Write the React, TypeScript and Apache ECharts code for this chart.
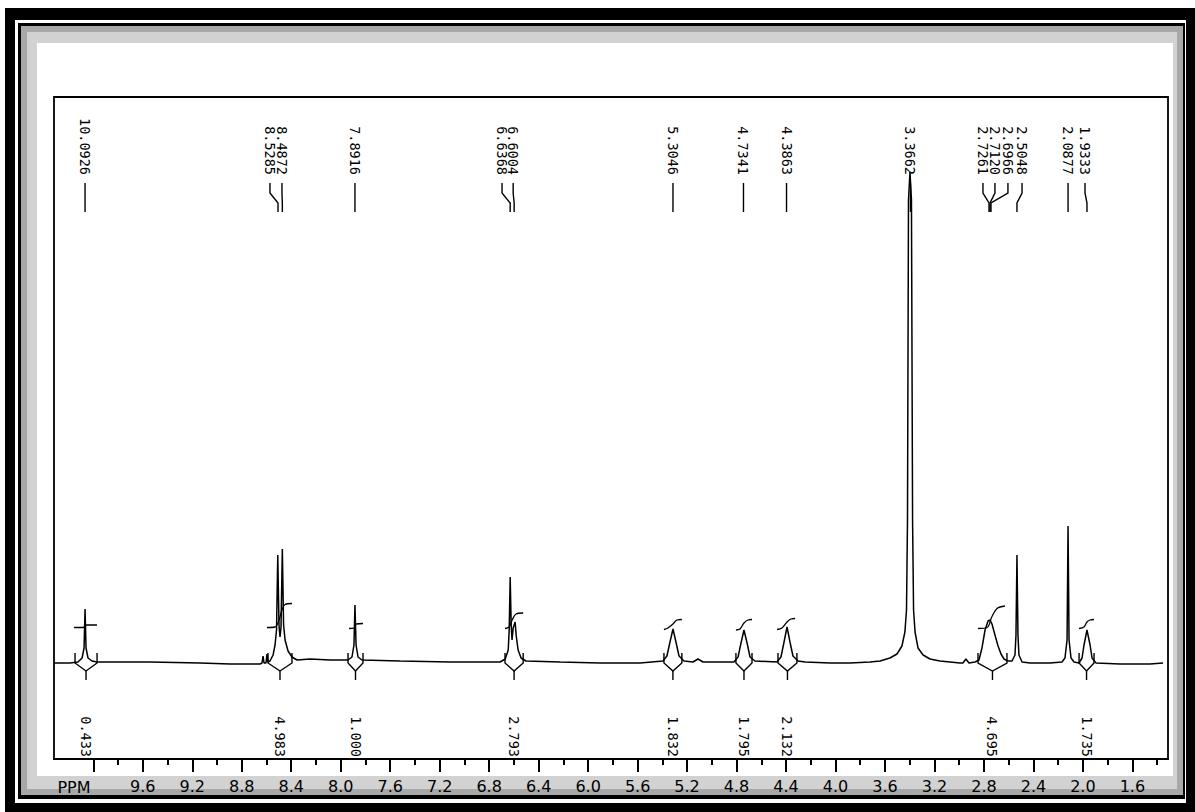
import React, { useEffect, useRef } from "react";
import * as echarts from "echarts";

// ---- axis range (ppm) ----
const ppmLeft = 10.318;
const ppmRight = 1.312;
const majorTicks = [10.0, 9.6, 9.2, 8.8, 8.4, 8.0, 7.6, 7.2, 6.8, 6.4, 6.0, 5.6, 5.2, 4.8, 4.4, 4.0, 3.6, 3.2, 2.8, 2.4, 2.0, 1.6];
const majorLabels = [9.6, 9.2, 8.8, 8.4, 8.0, 7.6, 7.2, 6.8, 6.4, 6.0, 5.6, 5.2, 4.8, 4.4, 4.0, 3.6, 3.2, 2.8, 2.4, 2.0, 1.6];
const minorTicks = [9.8, 9.4, 9.0, 8.6, 8.2, 7.8, 7.4, 7.0, 6.6, 6.2, 5.8, 5.4, 5.0, 4.6, 4.2, 3.8, 3.4, 3.0, 2.6, 2.2, 1.8, 1.4];

// ---- spectrum trace [ppm, intensity] ----
const spectrum: [number, number][] = [
  [10.318, 0], [10.188, 0], [10.124, 0.2], [10.091, 1.0], [10.075, 3.0], [10.067, 10.8], [10.059, 3.0], [10.043, 1.0], [10.011, 0.4], [9.970, 0.2],
  [9.542, 0.2], [9.137, 0], [8.895, -0.2], [8.652, -0.2], [8.636, 0], [8.628, 1.4], [8.620, 0], [8.604, 0], [8.596, 1.8], [8.588, 0.2],
  [8.572, 0.4], [8.547, 1.6], [8.531, 3.6], [8.519, 6.6], [8.509, 21.6], [8.499, 7.6], [8.491, 5.2], [8.483, 7.0], [8.472, 22.8], [8.462, 7.6],
  [8.450, 4.6], [8.426, 2.4], [8.394, 1.2], [8.353, 0.6], [8.248, 0.8], [8.086, 0.6], [7.965, 0.6], [7.941, 0.6], [7.909, 1.2], [7.893, 3.6],
  [7.885, 11.6], [7.876, 3.6], [7.860, 1.2], [7.828, 0.6], [7.521, 0.4], [7.116, 0.2], [6.712, 0.2], [6.670, 0.8], [6.646, 2.6], [6.638, 6.6],
  [6.630, 17.2], [6.622, 7.6], [6.615, 4.6], [6.606, 7.0], [6.590, 8.2], [6.582, 5.6], [6.566, 2.6], [6.542, 1.0], [6.502, 0.4], [6.227, 0.2],
  [5.904, 0], [5.580, 0], [5.395, 0.4], [5.363, 1.4], [5.338, 4.2], [5.314, 6.8], [5.290, 4.2], [5.265, 1.4], [5.225, 0.4], [5.152, 0.2],
  [5.112, 0.8], [5.071, 0.2], [4.821, 0.2], [4.788, 1.2], [4.764, 4.0], [4.740, 6.6], [4.715, 4.0], [4.691, 1.2], [4.651, 0.4], [4.473, 0.2],
  [4.441, 1.2], [4.416, 4.2], [4.392, 7.2], [4.368, 4.2], [4.344, 1.4], [4.303, 0.4], [4.246, 0.2], [4.044, 0], [3.883, 0], [3.721, 0.2],
  [3.640, 0.4], [3.560, 1.0], [3.503, 1.8], [3.463, 3.4], [3.439, 6.2], [3.426, 10.6], [3.418, 28.6], [3.410, 92.6], [3.398, 98.2], [3.386, 92.6],
  [3.377, 28.6], [3.369, 10.6], [3.357, 6.2], [3.333, 3.0], [3.292, 1.6], [3.236, 0.8], [3.156, 0.4], [3.075, 0.2], [2.994, 0], [2.970, 0],
  [2.946, 0.8], [2.921, 0],
  [2.872, 0.2], [2.840, 0.6], [2.816, 3.0], [2.791, 6.6], [2.767, 8.4], [2.751, 8.6], [2.735, 7.8], [2.711, 5.6], [2.686, 3.4], [2.662, 1.8],
  [2.638, 0.8], [2.606, 0.4], [2.573, 0.4], [2.549, 1.6], [2.541, 5.6], [2.533, 21.6], [2.525, 5.6], [2.517, 1.6], [2.492, 0.2], [2.427, 0],
  [2.266, 0], [2.169, 0.2], [2.145, 1.0], [2.128, 4.6], [2.120, 27.4], [2.112, 4.6], [2.096, 1.0], [2.072, 0.2], [2.031, 0], [2.007, 1.0],
  [1.991, 3.6], [1.967, 6.6], [1.942, 3.6], [1.926, 1.0], [1.894, 0], [1.700, -0.2], [1.457, -0.2], [1.352, 0],
];

// ---- integral curves [ppm, level] ----
const integral1: [number, number][] = [[10.156, 7.1], [10.083, 7.1], [10.059, 7.6], [9.970, 7.6]];
const integral2: [number, number][] = [[8.596, 7.1], [8.531, 7.2], [8.499, 8.6], [8.475, 10.6], [8.450, 11.7], [8.394, 11.9]];
const integral3: [number, number][] = [[7.933, 6.9], [7.893, 7.0], [7.876, 7.8], [7.820, 7.9]];
const integral4: [number, number][] = [[6.672, 6.9], [6.638, 7.2], [6.614, 8.6], [6.582, 9.8], [6.525, 10.0]];
const integral5: [number, number][] = [[5.387, 6.7], [5.355, 7.0], [5.314, 7.8], [5.282, 8.6], [5.242, 8.7]];
const integral6: [number, number][] = [[4.805, 6.6], [4.772, 6.8], [4.740, 8.0], [4.708, 8.6], [4.675, 8.7]];
const integral7: [number, number][] = [[4.473, 6.7], [4.433, 7.0], [4.392, 8.2], [4.360, 8.8], [4.327, 8.9]];
const integral8: [number, number][] = [[2.848, 6.9], [2.775, 7.1], [2.735, 9.3], [2.694, 10.9], [2.630, 11.4]];
const integral9: [number, number][] = [[2.031, 6.9], [1.991, 7.2], [1.967, 8.2], [1.942, 8.6], [1.910, 8.7]];
const integralCurves = [integral1, integral2, integral3, integral4, integral5, integral6, integral7, integral8, integral9];

// ---- integration regions [start ppm, end ppm] and values ----
const integralRanges: [number, number][] = [
  [10.148, 9.970], [8.588, 8.394], [7.941, 7.820], [6.672, 6.525], [5.387, 5.242],
  [4.805, 4.675], [4.465, 4.312], [2.848, 2.614], [2.031, 1.910],
];
const integralValues = ["0.433", "4.983", "1.000", "2.793", "1.832", "1.795", "2.132", "4.695", "1.735"];

// ---- peak labels: text, ppm where leader meets the peak, ppm of the label column ----
const peakLabels = ["10.0926", "8.5285", "8.4872", "7.8916", "6.6368", "6.6004", "5.3046", "4.7341", "4.3863", "3.3662", "2.7261", "2.7120", "2.6966", "2.5048", "2.0877", "1.9333"];
const peakPos = [10.067, 8.507, 8.472, 7.885, 6.630, 6.598, 5.314, 4.744, 4.396, 3.394, 2.759, 2.751, 2.743, 2.533, 2.120, 1.967];
const labelPos = [10.067, 8.572, 8.475, 7.885, 6.696, 6.606, 5.314, 4.744, 4.396, 3.394, 2.808, 2.711, 2.606, 2.492, 2.120, 1.983];

const MONO = "13.5px 'DejaVu Sans Mono', monospace";

export default function App() {
  const ref = useRef<HTMLDivElement>(null);
  useEffect(() => {
    document.body.style.margin = "0";
    const chart = echarts.init(ref.current!, null, { renderer: "svg" });
    const blk = { stroke: "#000", lineWidth: 1.4, fill: "none" };

    const option: any = {
      animation: false,
      backgroundColor: "#fff",
      grid: { left: 54, top: 97, width: 1114, height: 662, show: true, borderColor: "#000", borderWidth: 1.8 },
      xAxis: [
        {
          type: "value", inverse: true, min: ppmRight, max: ppmLeft, position: "bottom",
          axisLine: { show: true, onZero: false, lineStyle: { color: "#000", width: 1.8 } },
          axisTick: { show: true, customValues: majorTicks, length: 13, lineStyle: { color: "#000", width: 2 } },
          axisLabel: { show: true, customValues: majorLabels, margin: 19, color: "#000", fontFamily: "DejaVu Sans", fontSize: 16, formatter: (v: number) => v.toFixed(1) },
          splitLine: { show: false },
        },
        {
          type: "value", inverse: true, min: ppmRight, max: ppmLeft, position: "bottom",
          axisLine: { show: false, onZero: false },
          axisTick: { show: true, customValues: minorTicks, length: 6, lineStyle: { color: "#000", width: 2 } },
          axisLabel: { show: false },
          splitLine: { show: false },
        },
      ],
      yAxis: { type: "value", min: -19.2, max: 113.2, show: false, splitLine: { show: false } },
      graphic: [
        { type: "rect", z: -10, shape: { x: 5, y: 8, width: 1190, height: 804 }, style: { fill: "#000" } },
        { type: "rect", z: -10, shape: { x: 15, y: 20, width: 1171, height: 783 }, style: { fill: "#fff" } },
        { type: "rect", z: -10, shape: { x: 18, y: 23, width: 1167, height: 776 }, style: { fill: "#000" } },
        { type: "rect", z: -10, shape: { x: 21, y: 26, width: 1162, height: 769 }, style: { fill: "#a8a8a8" } },
        { type: "rect", z: -10, shape: { x: 27, y: 32, width: 1150, height: 757 }, style: { fill: "#d2d2d2" } },
        { type: "rect", z: -10, shape: { x: 37, y: 43, width: 1136, height: 733 }, style: { fill: "#fff" } },
        { type: "text", z: 10, x: 74, y: 787, style: { text: "PPM", font: "16px 'DejaVu Sans'", fill: "#000", align: "center", verticalAlign: "middle" } },
      ],
      series: [
        {
          type: "line", data: spectrum, showSymbol: false, silent: true, z: 3,
          lineStyle: { color: "#000", width: 1.5 },
        },
        ...integralCurves.map((c) => ({
          type: "line", data: c, showSymbol: false, silent: true, smooth: 0.35, z: 4,
          lineStyle: { color: "#000", width: 1.3 },
        })),
        {
          type: "custom", silent: true, z: 5,
          data: integralRanges,
          encode: { x: [0, 1] },
          renderItem: (params: any, api: any) => {
            const cs = params.coordSys;
            const p0 = api.coord([api.value(0), 0]);
            const p1 = api.coord([api.value(1), 0]);
            const cx = (p0[0] + p1[0]) / 2;
            const by = p0[1];
            return {
              type: "group",
              children: [
                { type: "polyline", shape: { points: [[p0[0], by - 10], [p0[0], by], [cx, by + 8], [p1[0], by], [p1[0], by - 10]] }, style: blk },
                { type: "line", shape: { x1: cx, y1: by + 8, x2: cx, y2: by + 17 }, style: blk },
                {
                  type: "text", x: cx, y: cs.y + cs.height - 2, rotation: -Math.PI / 2,
                  style: { text: integralValues[params.dataIndex], font: MONO, fill: "#000", align: "right", verticalAlign: "middle" },
                },
              ],
            };
          },
        },
        {
          type: "custom", silent: true, z: 6,
          data: peakPos.map((p, i) => [p, labelPos[i]]),
          encode: { x: [0, 1] },
          renderItem: (params: any, api: any) => {
            const cs = params.coordSys;
            const px = api.coord([api.value(0), 0])[0];
            const lx = api.coord([api.value(1), 0])[0];
            const t = cs.y;
            return {
              type: "group",
              children: [
                {
                  type: "text", x: lx, y: t + 78, rotation: -Math.PI / 2,
                  style: { text: peakLabels[params.dataIndex], font: MONO, fill: "#000", align: "right", verticalAlign: "middle" },
                },
                { type: "polyline", shape: { points: [[lx, t + 86], [lx, t + 96], [px, t + 106], [px, t + 115]] }, style: blk },
              ],
            };
          },
        },
      ],
    };
    chart.setOption(option);
    return () => chart.dispose();
  }, []);
  return <div ref={ref} style={{ width: 1195, height: 812 }} />;
}
